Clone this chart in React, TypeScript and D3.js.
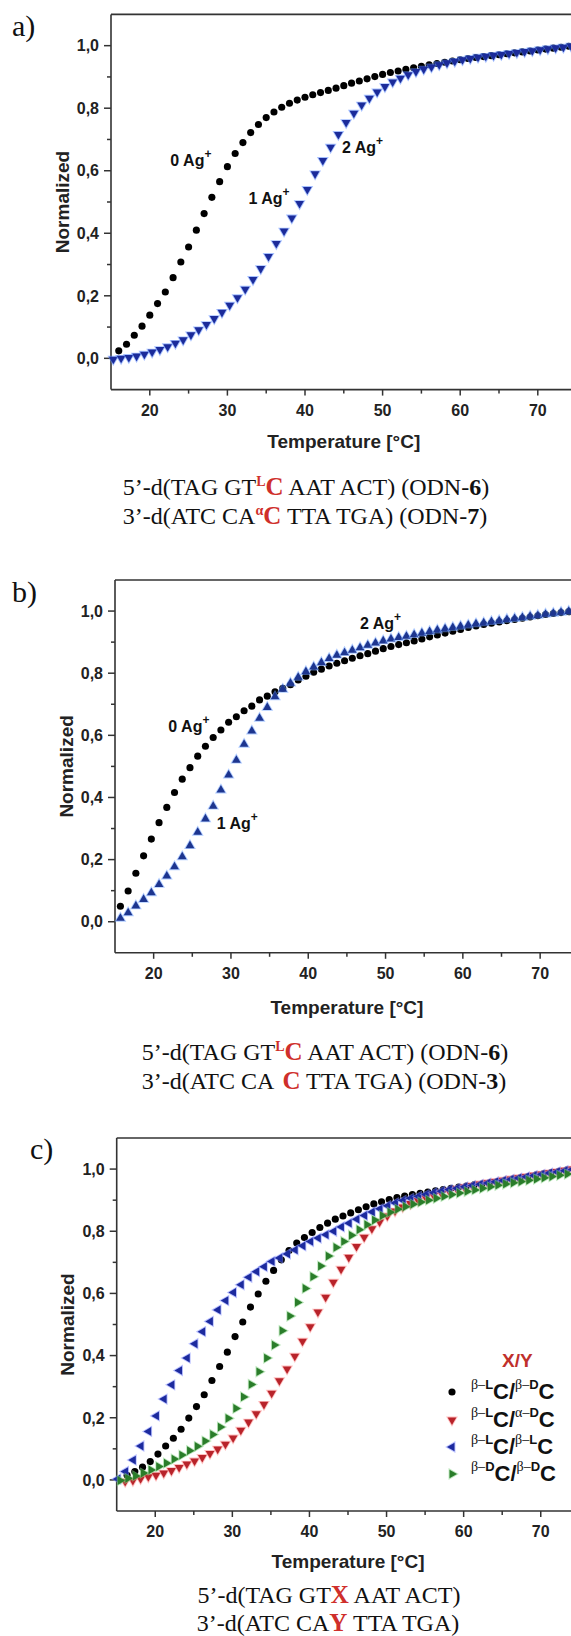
import React from "react";
import * as d3 from "d3";

const W = 571;
const H = 1636;
const SANS = "'Liberation Sans', Arial, Helvetica, sans-serif";
const SERIF = "'Liberation Serif', 'Times New Roman', serif";
const RED = "#cf2f2b";

// axes
const xDomain = [15, 75];
const yDomain = [-0.1, 1.1];
const xMajor = [20, 30, 40, 50, 60, 70];
const xMinor = [25, 35, 45, 55, 65, 75];
const yMajor = [0, 0.2, 0.4, 0.6, 0.8, 1.0];
const yMinor = [0.1, 0.3, 0.5, 0.7, 0.9];

// panel a) ODN-6 / ODN-7
const aTemp0 = d3.range(16, 76);
const aVal0 = [
  0.024, 0.045, 0.074, 0.103, 0.138, 0.175, 0.212, 0.258, 0.308, 0.356,
  0.41, 0.463, 0.515, 0.565, 0.613, 0.655, 0.69, 0.722, 0.748, 0.77,
  0.788, 0.803, 0.816, 0.826, 0.835, 0.843, 0.85, 0.857, 0.864, 0.872,
  0.88, 0.887, 0.894, 0.901, 0.908, 0.914, 0.919, 0.924, 0.929, 0.934,
  0.939, 0.943, 0.947, 0.951, 0.955, 0.959, 0.962, 0.965, 0.968, 0.971,
  0.974, 0.977, 0.98, 0.983, 0.986, 0.989, 0.992, 0.995, 0.998, 1.0,
];
// 1 Ag+ and 2 Ag+ lie on top of each other
const aTempAg = d3.range(15.3, 76);
const aValAg = [
  -0.003, 0.0, 0.003, 0.007, 0.013, 0.02, 0.028, 0.037, 0.048, 0.059,
  0.075, 0.091, 0.108, 0.127, 0.147, 0.17, 0.194, 0.221, 0.252, 0.287,
  0.326, 0.367, 0.407, 0.449, 0.495, 0.54, 0.59, 0.633, 0.675, 0.716,
  0.754, 0.784, 0.81, 0.832, 0.852, 0.869, 0.884, 0.896, 0.907, 0.917,
  0.925, 0.932, 0.939, 0.945, 0.95, 0.955, 0.959, 0.963, 0.966, 0.969,
  0.972, 0.975, 0.978, 0.981, 0.984, 0.987, 0.99, 0.993, 0.995, 0.998,
  1.0,
];

// panel b) ODN-6 / ODN-3
const bTemp = d3.range(15.7, 75);
const bVal0 = [
  0.05, 0.099, 0.156, 0.212, 0.266, 0.319, 0.368, 0.416, 0.459, 0.496,
  0.533, 0.565, 0.593, 0.617, 0.642, 0.66, 0.679, 0.694, 0.714, 0.726,
  0.74, 0.751, 0.763, 0.778, 0.79, 0.803, 0.813, 0.823, 0.832, 0.84,
  0.848, 0.856, 0.863, 0.871, 0.879, 0.886, 0.892, 0.898, 0.904, 0.91,
  0.917, 0.923, 0.929, 0.935, 0.941, 0.947, 0.952, 0.957, 0.961, 0.965,
  0.969, 0.973, 0.977, 0.981, 0.985, 0.989, 0.992, 0.995, 0.998, 1.0,
];
const bValAg = [
  0.011, 0.029, 0.051, 0.072, 0.093, 0.12, 0.147, 0.177, 0.209, 0.245,
  0.288, 0.331, 0.372, 0.424, 0.472, 0.52, 0.571, 0.614, 0.655, 0.69,
  0.724, 0.748, 0.768, 0.787, 0.805, 0.82, 0.834, 0.847, 0.858, 0.866,
  0.874, 0.882, 0.89, 0.897, 0.904, 0.91, 0.915, 0.919, 0.924, 0.929,
  0.934, 0.939, 0.943, 0.947, 0.951, 0.955, 0.959, 0.962, 0.966, 0.969,
  0.973, 0.976, 0.979, 0.983, 0.986, 0.99, 0.993, 0.996, 0.999, 1.002,
];

// panel c) X/Y variants
const cTempLD = d3.range(16.35, 75);
const cValLD = [
  0.015, 0.027, 0.041, 0.059, 0.083, 0.109, 0.134, 0.163, 0.199, 0.236,
  0.274, 0.32, 0.365, 0.411, 0.461, 0.508, 0.556, 0.598, 0.639, 0.674,
  0.708, 0.738, 0.762, 0.78, 0.796, 0.812, 0.826, 0.839, 0.849, 0.859,
  0.869, 0.879, 0.888, 0.895, 0.902, 0.908, 0.913, 0.918, 0.922, 0.926,
  0.93, 0.934, 0.938, 0.942, 0.945, 0.949, 0.952, 0.956, 0.96, 0.964,
  0.968, 0.972, 0.976, 0.981, 0.985, 0.989, 0.993, 0.997, 1.0,
];
const cTempLaD = d3.range(16.1, 75);
const cValLaD = [
  -0.005, -0.002, 0.004, 0.01, 0.015, 0.022, 0.03, 0.04, 0.051, 0.061,
  0.072, 0.085, 0.099, 0.115, 0.135, 0.16, 0.186, 0.213, 0.243, 0.279,
  0.319, 0.357, 0.398, 0.446, 0.493, 0.54, 0.588, 0.636, 0.678, 0.716,
  0.751, 0.781, 0.808, 0.83, 0.849, 0.865, 0.878, 0.889, 0.899, 0.908,
  0.916, 0.923, 0.93, 0.936, 0.942, 0.947, 0.952, 0.956, 0.96, 0.964,
  0.968, 0.972, 0.976, 0.98, 0.984, 0.988, 0.992, 0.996, 1.0,
];
const cTempLL = d3.range(15.15, 75);
const cValLL = [
  0.003, 0.027, 0.064, 0.109, 0.156, 0.206, 0.26, 0.306, 0.352, 0.392,
  0.438, 0.477, 0.51, 0.547, 0.577, 0.603, 0.628, 0.652, 0.67, 0.686,
  0.703, 0.714, 0.727, 0.74, 0.753, 0.767, 0.778, 0.789, 0.8, 0.814,
  0.826, 0.839, 0.851, 0.862, 0.872, 0.882, 0.891, 0.899, 0.906, 0.912,
  0.918, 0.924, 0.929, 0.934, 0.938, 0.943, 0.947, 0.951, 0.955, 0.959,
  0.963, 0.967, 0.971, 0.975, 0.979, 0.983, 0.987, 0.991, 0.995, 0.999,
];
const cTempDD = d3.range(15.45, 75);
const cValDD = [
  -0.002, 0.005, 0.013, 0.022, 0.032, 0.043, 0.054, 0.067, 0.08, 0.094,
  0.108, 0.125, 0.146, 0.17, 0.198, 0.23, 0.267, 0.307, 0.348, 0.392,
  0.434, 0.48, 0.527, 0.571, 0.616, 0.654, 0.688, 0.72, 0.748, 0.767,
  0.787, 0.805, 0.821, 0.836, 0.85, 0.861, 0.871, 0.879, 0.887, 0.894,
  0.9, 0.906, 0.912, 0.918, 0.923, 0.928, 0.933, 0.938, 0.943, 0.948,
  0.952, 0.956, 0.96, 0.964, 0.968, 0.972, 0.976, 0.98, 0.984, 0.988,
];

type Shape = "circle" | "up" | "down" | "left" | "right";
type Series = { temps: number[]; vals: number[]; shape: Shape; fill: string; halo?: string };
type Note = { t: number; v: number; text: string };

const circlePath = d3.symbol(d3.symbolCircle, 40)()!;
const triPath = d3.symbol(d3.symbolTriangle, 33)()!;
const rot: Record<Shape, number> = { circle: 0, up: 0, down: 180, left: -90, right: 90 };

function Marker({ x, y, shape, fill, halo }: { x: number; y: number; shape: Shape; fill: string; halo?: string }) {
  return (
    <path
      d={shape === "circle" ? circlePath : triPath}
      transform={`translate(${x},${y}) rotate(${rot[shape]})`}
      fill={fill}
      stroke={halo || "none"}
      strokeWidth={halo ? 1.8 : 0}
      strokeOpacity={0.55}
      style={{ paintOrder: "stroke" }}
    />
  );
}

const fmt = (v: number) => d3.format(".1f")(v).replace(".", ",");

function Panel(props: {
  left: number; top: number; bottom: number; right: number;
  series: Series[]; notes: Note[]; titleDy: number;
}) {
  const { left, top, bottom, right, series, notes, titleDy } = props;
  const x = d3.scaleLinear().domain(xDomain).range([left, right]);
  const y = d3.scaleLinear().domain(yDomain).range([bottom, top]);
  const axis = "#333";
  return (
    <g>
      <line x1={left} x2={W + 10} y1={top} y2={top} stroke={axis} strokeWidth={1.6} />
      <line x1={left} x2={left} y1={top} y2={bottom} stroke={axis} strokeWidth={1.6} />
      <line x1={left} x2={W + 10} y1={bottom} y2={bottom} stroke={axis} strokeWidth={1.6} />
      {yMajor.map((v) => (
        <g key={"ym" + v}>
          <line x1={left - 7} x2={left} y1={y(v)} y2={y(v)} stroke={axis} strokeWidth={1.5} />
          <text x={left - 12} y={y(v)} dy="0.36em" textAnchor="end" fontFamily={SANS}
            fontWeight="bold" fontSize={16} fill="#222">{fmt(v)}</text>
        </g>
      ))}
      {yMinor.map((v) => (
        <line key={"yn" + v} x1={left - 4} x2={left} y1={y(v)} y2={y(v)} stroke={axis} strokeWidth={1.5} />
      ))}
      {xMajor.map((t) => (
        <g key={"xm" + t}>
          <line x1={x(t)} x2={x(t)} y1={bottom} y2={bottom + 6} stroke={axis} strokeWidth={1.5} />
          <text x={x(t)} y={bottom + 26} textAnchor="middle" fontFamily={SANS}
            fontWeight="bold" fontSize={16} fill="#222">{t}</text>
        </g>
      ))}
      {xMinor.map((t) => (
        <line key={"xn" + t} x1={x(t)} x2={x(t)} y1={bottom} y2={bottom + 4} stroke={axis} strokeWidth={1.5} />
      ))}
      <text x={(left + right) / 2} y={bottom + titleDy} textAnchor="middle" fontFamily={SANS}
        fontWeight="bold" fontSize={19} fill="#222">Temperature [°C]</text>
      <text transform={`translate(${left - 49},${(top + bottom) / 2}) rotate(-90)`} textAnchor="middle"
        dominantBaseline="central" fontFamily={SANS} fontWeight="bold" fontSize={19} fill="#222">Normalized</text>
      {series.map((s, si) => (
        <g key={"s" + si}>
          {s.vals.map((v, i) => (
            <Marker key={i} x={x(s.temps[i])} y={y(v)} shape={s.shape} fill={s.fill} halo={s.halo} />
          ))}
        </g>
      ))}
      {notes.map((n, i) => (
        <text key={"n" + i} x={x(n.t)} y={y(n.v)} fontFamily={SANS} fontWeight="bold" fontSize={16} fill="#111">
          {n.text}
          <tspan fontSize={12} dy={-8}>+</tspan>
        </text>
      ))}
    </g>
  );
}

function SeqLine({ cx, y, pre, sup, mid, post, bold }: {
  cx: number; y: number; pre: string; sup?: string; mid: string; post: string; bold?: string;
}) {
  return (
    <text x={cx} y={y} textAnchor="middle" fontFamily={SERIF} fontSize={24} fill="#111">
      <tspan>{pre}</tspan>
      {sup ? <tspan fill={RED} fontWeight="bold" fontSize={14} dy={-9}>{sup}</tspan> : null}
      <tspan fill={RED} fontWeight="bold" fontSize={25} dy={sup ? 9 : 0}>{mid}</tspan>
      <tspan>{post}</tspan>
      {bold ? <tspan fontWeight="bold">{bold}</tspan> : null}
      {bold ? <tspan>)</tspan> : null}
    </text>
  );
}

const legendRows: { shape: Shape; fill: string; halo: string; a: string; b: string; c: string; d: string }[] = [
  { shape: "circle", fill: "#000", halo: "", a: "\u03B2\u2013", b: "L", c: "\u03B2\u2013", d: "D" },
  { shape: "down", fill: "#b8232a", halo: "#ff8a8a", a: "\u03B2\u2013", b: "L", c: "\u03B1\u2013", d: "D" },
  { shape: "left", fill: "#1c2a9e", halo: "#7f8cff", a: "\u03B2\u2013", b: "L", c: "\u03B2\u2013", d: "L" },
  { shape: "right", fill: "#2a7d2a", halo: "#86d486", a: "\u03B2\u2013", b: "D", c: "\u03B2\u2013", d: "D" },
];
const legendY = [1392, 1420, 1447, 1474];

export default function App() {
  const panelA: Series[] = [
    { temps: aTemp0, vals: aVal0, shape: "circle", fill: "#000" },
    { temps: aTempAg, vals: aValAg, shape: "down", fill: "#1b2b9a", halo: "#5c8dff" },
  ];
  const panelB: Series[] = [
    { temps: bTemp, vals: bVal0, shape: "circle", fill: "#000" },
    { temps: bTemp, vals: bValAg, shape: "up", fill: "#1d358f", halo: "#6fa3ff" },
  ];
  const panelC: Series[] = [
    { temps: cTempLD, vals: cValLD, shape: "circle", fill: "#000" },
    { temps: cTempLaD, vals: cValLaD, shape: "down", fill: "#b8232a", halo: "#ff8a8a" },
    { temps: cTempLL, vals: cValLL, shape: "left", fill: "#1c2a9e", halo: "#7f8cff" },
    { temps: cTempDD, vals: cValDD, shape: "right", fill: "#2a7d2a", halo: "#86d486" },
  ];
  return (
    <svg width={W} height={H} style={{ position: "absolute", left: 0, top: 0, background: "#fff" }}>
      <rect width={W} height={H} fill="#fff" />
      <text x={12} y={36} fontFamily={SERIF} fontSize={30} fill="#111">a)</text>
      <Panel left={111} top={14.4} bottom={389.6} right={576.6} series={panelA} titleDy={58}
        notes={[
          { t: 22.65, v: 0.615, text: "0 Ag" },
          { t: 32.72, v: 0.494, text: "1 Ag" },
          { t: 44.77, v: 0.657, text: "2 Ag" },
        ]} />
      <SeqLine cx={306} y={495} pre={"5\u2019-d(TAG GT"} sup="L" mid="C" post={" AAT ACT) (ODN-"} bold="6" />
      <SeqLine cx={305} y={524} pre={"3\u2019-d(ATC CA"} sup={"\u03B1"} mid="C" post={" TTA TGA) (ODN-"} bold="7" />

      <text x={12} y={602} fontFamily={SERIF} fontSize={30} fill="#111">b)</text>
      <Panel left={115} top={580} bottom={952.8} right={578.8} series={panelB} titleDy={61}
        notes={[
          { t: 21.9, v: 0.611, text: "0 Ag" },
          { t: 28.16, v: 0.298, text: "1 Ag" },
          { t: 46.7, v: 0.942, text: "2 Ag" },
        ]} />
      <SeqLine cx={325} y={1060} pre={"5\u2019-d(TAG GT"} sup="L" mid="C" post={" AAT ACT) (ODN-"} bold="6" />
      <SeqLine cx={324} y={1089} pre={"3\u2019-d(ATC CA\u2004"} mid="C" post={" TTA TGA) (ODN-"} bold="3" />

      <text x={30} y={1159} fontFamily={SERIF} fontSize={30} fill="#111">c)</text>
      <Panel left={116.7} top={1138} bottom={1511} right={579.3} series={panelC} titleDy={57} notes={[]} />
      <text x={502} y={1367} fontFamily={SANS} fontWeight="bold" fontSize={19} fill="#c0302c">X/Y</text>
      {legendRows.map((r, i) => {
        const ry = legendY[i];
        return (
          <g key={"lg" + i}>
            <Marker x={452} y={ry} shape={r.shape} fill={r.fill} halo={r.halo || undefined} />
            <text x={471} y={ry + 7} fontFamily={SANS} fontWeight="bold" fontSize={22} fill="#111">
              <tspan fontFamily={SERIF} fontWeight="normal" fontSize={14} dy={-10}>{r.a}</tspan>
              <tspan fontSize={13}>{r.b}</tspan>
              <tspan dy={10}>C/</tspan>
              <tspan fontFamily={SERIF} fontWeight="normal" fontSize={14} dy={-10}>{r.c}</tspan>
              <tspan fontSize={13}>{r.d}</tspan>
              <tspan dy={10}>C</tspan>
            </text>
          </g>
        );
      })}
      <SeqLine cx={329} y={1603} pre={"5\u2019-d(TAG GT"} mid="X" post={" AAT ACT)"} />
      <SeqLine cx={328} y={1631} pre={"3\u2019-d(ATC CA"} mid="Y" post={" TTA TGA)"} />
    </svg>
  );
}
